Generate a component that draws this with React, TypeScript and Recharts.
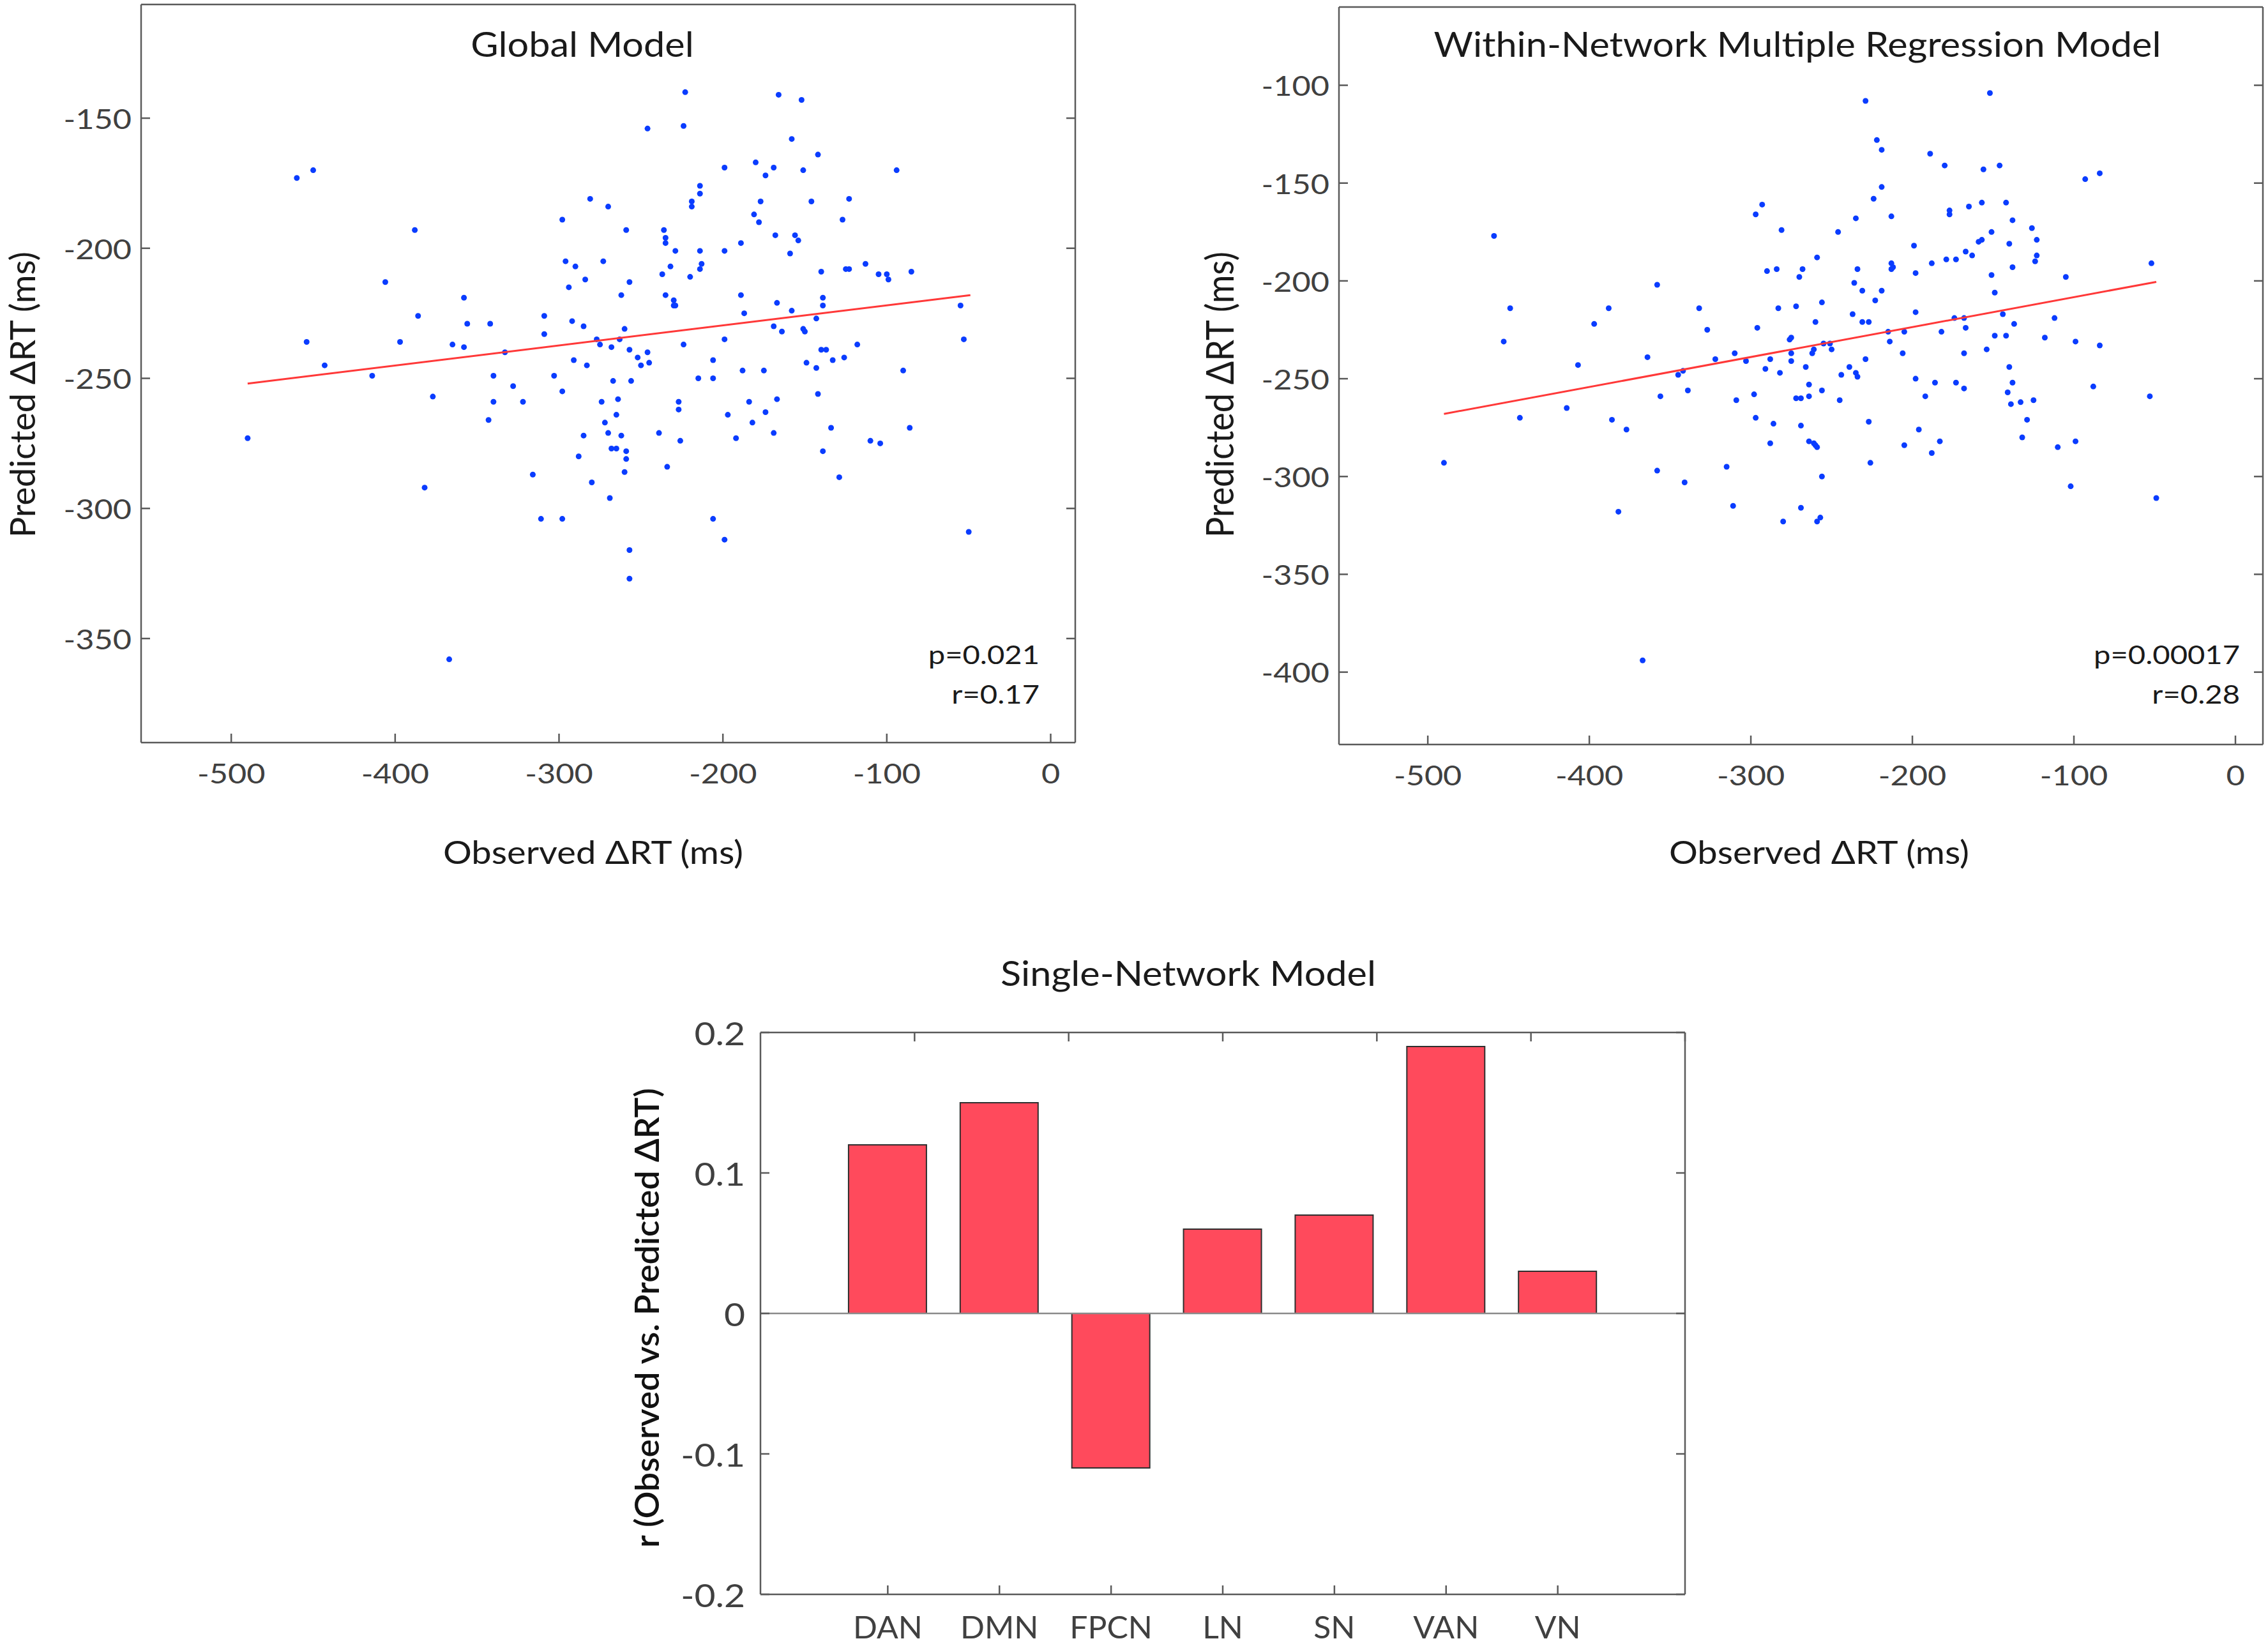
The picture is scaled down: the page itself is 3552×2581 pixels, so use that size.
import { ScatterChart, Scatter, XAxis, YAxis, BarChart, Bar, ReferenceLine } from 'recharts';

// Global Model: observed vs predicted delta RT (ms)
const globalObserved = [
  -490, -460, -450, -454, -443, -414, -406, -397, -388, -386, -382, -377, -367, -365, -358, -358,
  -356, -343, -342, -340, -340, -333, -328, -322, -316, -311, -309, -309, -303, -298, -298, -298,
  -296, -294, -292, -291, -290, -288, -285, -285, -284, -283, -281, -280, -277, -275, -274, -273,
  -272, -270, -270, -269, -268, -268, -267, -265, -265, -264, -263, -262, -262, -260, -259, -259,
  -259, -260, -257, -257, -257, -256, -257, -252, -250, -246, -246, -245, -239, -237, -236, -235,
  -235, -235, -234, -232, -230, -230, -229, -229, -227, -227, -226, -224, -224, -223, -220, -219,
  -219, -215, -214, -214, -214, -214, -213, -206, -206, -206, -199, -199, -199, -199, -197, -192,
  -189, -189, -188, -187, -184, -182, -181, -180, -178, -177, -175, -174, -174, -169, -169, -169,
  -168, -167, -167, -166, -164, -159, -158, -158, -156, -154, -152, -151, -151, -150, -149, -146,
  -143, -143, -142, -142, -140, -140, -139, -139, -139, -137, -134, -133, -129, -127, -126, -125,
  -123, -123, -118, -113, -110, -105, -104, -100, -99, -94, -90, -86, -85, -55, -53, -50,
];
const globalPredicted = [
  -273, -173, -170, -236, -245, -249, -213, -236, -193, -226, -292, -257, -358, -237, -219, -238,
  -229, -266, -229, -249, -259, -240, -253, -259, -287, -304, -226, -233, -249, -189, -255, -304,
  -205, -215, -228, -243, -207, -280, -272, -230, -212, -245, -181, -290, -235, -237, -259, -205,
  -267, -184, -271, -296, -277, -238, -251, -277, -264, -258, -235, -218, -272, -231, -193, -278,
  -281, -286, -213, -239, -316, -251, -327, -242, -245, -154, -240, -244, -271, -210, -193, -196,
  -218, -198, -284, -207, -220, -222, -201, -222, -259, -262, -274, -153, -237, -140, -211, -182,
  -184, -250, -208, -176, -179, -201, -206, -250, -304, -243, -235, -201, -169, -312, -264, -273,
  -198, -218, -247, -225, -259, -267, -187, -167, -190, -182, -247, -172, -263, -169, -271, -230,
  -195, -258, -221, -141, -232, -202, -158, -224, -195, -197, -143, -170, -231, -232, -244, -182,
  -227, -246, -164, -256, -209, -239, -219, -222, -278, -239, -269, -243, -288, -189, -242, -208,
  -208, -181, -237, -206, -274, -210, -275, -210, -212, -170, -247, -269, -209, -222, -235, -309,
];
const globalFitObserved = [-490, -49];
const globalFitPredicted = [-252, -218];

// Within-Network Multiple Regression Model
const withinObserved = [
  -490, -459, -453, -449, -443, -414, -407, -397, -388, -386, -382, -377, -367, -364, -358, -358,
  -356, -345, -342, -341, -339, -332, -327, -322, -315, -311, -310, -309, -303, -298, -297, -297,
  -296, -293, -291, -290, -288, -288, -286, -284, -283, -282, -281, -280, -276, -275, -275, -275,
  -272, -272, -270, -269, -269, -269, -268, -266, -264, -264, -264, -262, -261, -261, -260, -259,
  -260, -259, -259, -257, -256, -256, -256, -255, -251, -250, -246, -245, -244, -239, -237, -236,
  -235, -235, -234, -234, -231, -231, -229, -229, -227, -227, -226, -224, -223, -222, -219, -219,
  -219, -215, -214, -213, -213, -213, -212, -206, -205, -205, -199, -198, -198, -198, -196, -192,
  -189, -188, -188, -186, -183, -182, -180, -179, -177, -177, -174, -173, -173, -168, -168, -168,
  -167, -167, -165, -163, -159, -157, -157, -156, -154, -152, -151, -151, -149, -149, -146, -144,
  -142, -142, -141, -140, -140, -139, -138, -138, -138, -137, -133, -132, -129, -126, -125, -124,
  -123, -123, -118, -112, -110, -105, -102, -99, -99, -93, -88, -84, -84, -53, -52, -49,
];
const withinPredicted = [
  -293, -177, -231, -214, -270, -265, -243, -222, -214, -271, -318, -276, -394, -239, -202, -297,
  -259, -248, -246, -303, -256, -214, -225, -240, -295, -315, -237, -261, -241, -258, -270, -166,
  -224, -161, -245, -195, -240, -283, -273, -194, -214, -247, -174, -323, -230, -229, -237, -241,
  -213, -260, -198, -274, -316, -260, -194, -244, -253, -259, -282, -237, -235, -283, -221, -188,
  -284, -285, -323, -321, -211, -300, -256, -232, -232, -235, -175, -261, -248, -244, -217, -201,
  -168, -247, -249, -194, -205, -221, -240, -108, -221, -272, -293, -158, -210, -128, -205, -133,
  -152, -226, -231, -167, -191, -194, -193, -237, -226, -284, -182, -196, -216, -250, -276, -259,
  -135, -191, -288, -252, -282, -226, -141, -189, -166, -164, -219, -189, -252, -219, -237, -255,
  -224, -185, -162, -187, -180, -179, -160, -143, -235, -104, -197, -175, -206, -228, -141, -217,
  -228, -160, -257, -181, -244, -263, -169, -193, -252, -222, -262, -280, -271, -173, -261, -190,
  -187, -179, -229, -219, -285, -198, -305, -231, -282, -148, -254, -233, -145, -259, -191, -311,
];
const withinFitObserved = [-490, -49];
const withinFitPredicted = [-268, -200.5];

// Single-Network Model
const networks = ['DAN', 'DMN', 'FPCN', 'LN', 'SN', 'VAN', 'VN'];
const networkR = [0.12, 0.15, -0.11, 0.06, 0.07, 0.19, 0.03];

const scatterXTicks = [-500, -400, -300, -200, -100, 0];
const globalYTicks = [-350, -300, -250, -200, -150];
const withinYTicks = [-400, -350, -300, -250, -200, -150, -100];
const barYTicks = [-0.2, -0.1, 0, 0.1, 0.2];

const zip = (xs: number[], ys: number[]) => xs.map((x, i) => ({ x, y: ys[i] }));

const globalPoints = zip(globalObserved, globalPredicted);
const globalFit = zip(globalFitObserved, globalFitPredicted);
const withinPoints = zip(withinObserved, withinPredicted);
const withinFit = zip(withinFitObserved, withinFitPredicted);
const barData = networks.map((name, i) => ({ pos: i + 1, name, r: networkR[i] }));

const AXIS = '#5a5a5a';
const TEXT = '#1a1a1a';
const TICK_TEXT = '#404040';
const FONT = 'Lato';
const axisLine = { stroke: AXIS, strokeWidth: 2.5 };

// text stretched horizontally, like the original figure
const Stretch = ({ x, y, sx = 1.15, size, anchor = 'middle', fill = TEXT, family = FONT, weight = 400, rotate = false, children }: any) => (
  <text
    transform={rotate ? `translate(${x},${y}) rotate(-90) scale(1,${sx})` : `translate(${x},${y}) scale(${sx},1)`}
    textAnchor={anchor}
    fontSize={size}
    fontFamily={family}
    fontWeight={weight}
    fill={fill}
  >
    {children}
  </text>
);

const bottomTick = (size: number, sx: number, fmt: (v: number) => string) => (p: any) => (
  <Stretch x={p.x} y={p.y + size * 0.72} size={size} sx={sx} fill={TICK_TEXT}>
    {fmt(p.payload.value)}
  </Stretch>
);
const leftTick = (size: number, sx: number) => (p: any) => (
  <Stretch x={p.x} y={p.y + size * 0.4} size={size} sx={sx} anchor="end" fill={TICK_TEXT}>
    {String(p.payload.value)}
  </Stretch>
);
const noLabel = () => '';

const Dot = (p: any) => <circle cx={p.cx} cy={p.cy} r={4.5} fill="#0a3cff" />;
const NoShape = () => <g />;

const ScatterPanel = ({ left, top, width, height, margin, xDomain, yDomain, yTicks, points, fit }: any) => (
  <div style={{ position: 'absolute', left, top }}>
    <ScatterChart width={width} height={height} margin={margin}>
      <XAxis
        type="number" dataKey="x" domain={xDomain} ticks={scatterXTicks} allowDataOverflow interval={0}
        height={100} tickSize={-14} tickMargin={48} axisLine={axisLine} tickLine={axisLine}
        tick={bottomTick(42, 1.2, (v) => String(v))}
      />
      <XAxis
        xAxisId="top" orientation="top" type="number" domain={xDomain} ticks={scatterXTicks} allowDataOverflow
        interval={0} height={2} tickSize={-14} axisLine={axisLine} tickLine={axisLine} tickFormatter={noLabel}
      />
      <YAxis
        type="number" dataKey="y" domain={yDomain} ticks={yTicks} allowDataOverflow interval={0}
        width={200} tickSize={-14} tickMargin={29} axisLine={axisLine} tickLine={axisLine}
        tick={leftTick(42, 1.2)}
      />
      <YAxis
        yAxisId="right" orientation="right" type="number" domain={yDomain} ticks={yTicks} allowDataOverflow
        interval={0} width={2} tickSize={-14} axisLine={axisLine} tickLine={axisLine} tickFormatter={noLabel}
      />
      <Scatter data={points} shape={Dot} isAnimationActive={false} />
      <Scatter data={fit} shape={NoShape} line={{ stroke: '#ff3838', strokeWidth: 3 }} isAnimationActive={false} />
    </ScatterChart>
  </div>
);

export default function App() {
  return (
    <div style={{ position: 'absolute', left: 0, top: 0, width: 3552, height: 2581, background: '#fff', overflow: 'hidden' }}>
      <ScatterPanel
        left={0} top={0} width={1696} height={1273}
        margin={{ top: 5, right: 10, bottom: 10, left: 21 }}
        xDomain={[-555, 15]} yDomain={[-390, -106.3]} yTicks={globalYTicks}
        points={globalPoints} fit={globalFit}
      />
      <ScatterPanel
        left={1870} top={0} width={1682} height={1276}
        margin={{ top: 9, right: 6, bottom: 10, left: 27 }}
        xDomain={[-555, 17]} yDomain={[-437, -60]} yTicks={withinYTicks}
        points={withinPoints} fit={withinFit}
      />

      <div style={{ position: 'absolute', left: 900, top: 1560 }}>
        <BarChart width={1751} height={1047} data={barData} margin={{ top: 55, right: 10, bottom: 10, left: 91 }}>
          <XAxis
            type="number" dataKey="pos" domain={[-0.14, 8.14]} ticks={[1, 2, 3, 4, 5, 6, 7]} allowDataOverflow
            interval={0} height={100} tickSize={-14} tickMargin={48} axisLine={axisLine} tickLine={axisLine}
            tick={bottomTick(48, 1.04, (v) => networks[v - 1])}
          />
          <XAxis
            xAxisId="top" orientation="top" type="number" domain={[-0.14, 8.14]} ticks={[1, 2, 3, 4, 5, 6, 7]}
            allowDataOverflow interval={0} height={2} tickSize={-14} axisLine={axisLine} tickLine={axisLine}
            tickFormatter={noLabel}
          />
          <YAxis
            type="number" domain={[-0.2, 0.2]} ticks={barYTicks} allowDataOverflow interval={0}
            width={200} tickSize={-14} tickMargin={38} axisLine={axisLine} tickLine={axisLine}
            tick={leftTick(50, 1.14)}
          />
          <YAxis
            yAxisId="right" orientation="right" type="number" domain={[-0.2, 0.2]} ticks={barYTicks}
            allowDataOverflow interval={0} width={2} tickSize={-14} axisLine={axisLine} tickLine={axisLine}
            tickFormatter={noLabel}
          />
          <Bar dataKey="r" barSize={122} fill="#ff4a5c" stroke="#2e2e2e" strokeWidth={2} isAnimationActive={false} />
          <ReferenceLine y={0} stroke="#8a8a8a" strokeWidth={2.5} />
        </BarChart>
      </div>

      <svg width={3552} height={2581} style={{ position: 'absolute', left: 0, top: 0, pointerEvents: 'none' }}>
        <Stretch x={912} y={89} size={54} sx={1.1}>Global Model</Stretch>
        <Stretch x={2815} y={89} size={54} sx={1.1}>Within-Network Multiple Regression Model</Stretch>
        <Stretch x={929} y={1353} size={51} sx={1.1}>Observed ΔRT (ms)</Stretch>
        <Stretch x={2849} y={1353} size={51} sx={1.1}>Observed ΔRT (ms)</Stretch>
        <Stretch x={55} y={618} size={54} sx={1.0} rotate>Predicted ΔRT (ms)</Stretch>
        <Stretch x={1932} y={618} size={54} sx={1.1} rotate>Predicted ΔRT (ms)</Stretch>
        <Stretch x={1628} y={1040} size={41} sx={1.15} anchor="end">p=0.021</Stretch>
        <Stretch x={1628} y={1102} size={41} sx={1.15} anchor="end">r=0.17</Stretch>
        <Stretch x={3508} y={1040} size={41} sx={1.15} anchor="end">p=0.00017</Stretch>
        <Stretch x={3508} y={1102} size={41} sx={1.15} anchor="end">r=0.28</Stretch>
        <Stretch x={1861} y={1544} size={54} sx={1.1}>Single-Network Model</Stretch>
        <Stretch x={1032} y={2064} size={53.5} sx={0.96} weight={600} fill="#111" rotate>r (Observed vs. Predicted ΔRT)</Stretch>
      </svg>
    </div>
  );
}
